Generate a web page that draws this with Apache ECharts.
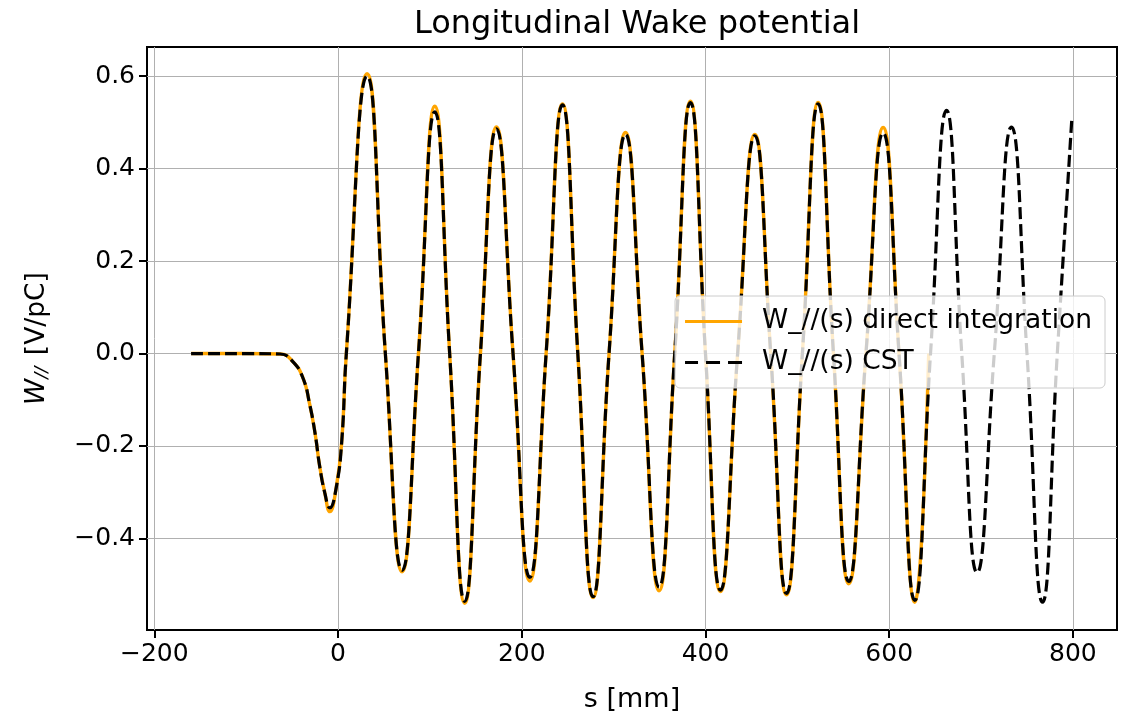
<!DOCTYPE html>
<html>
<head>
<meta charset="utf-8">
<script src="https://cdn.jsdelivr.net/npm/echarts@6/dist/echarts.min.js"></script>
<style>
  html, body { margin: 0; padding: 0; background: #fff; }
  #wake { width: 1127px; height: 718px; }
</style>
</head>
<body>
<div id="wake"></div>
<script>
// s in mm, W in V/pC (zero, extremum, zero, ...)
var sDirect = [-160, -100, -63, -49, -38, -31, -25, -20, -14.5, -9, -2, 4, 9,
  31.6, 51.5, 69.7, 87.5, 105.3, 121.5, 137.9, 155, 172.4, 190.5, 208.7, 226.5,
  244.3, 261, 277.6, 295, 312.9, 331, 349.5, 366.5, 383.6, 400, 416.3, 435,
  453.7, 471, 488.2, 505.5, 522.6, 539.3, 556, 574.7, 593.4, 610.7, 627.9, 643];
var wDirect = [0, 0, -0.001, -0.018, -0.054, -0.109, -0.173, -0.244, -0.301, -0.342, -0.29, -0.19, 0,
  0.605, 0, -0.472, 0, 0.535, 0, -0.54, 0, 0.49, 0, -0.492, 0,
  0.54, 0, -0.528, 0, 0.478, 0, -0.513, 0, 0.546, 0, -0.515, 0,
  0.474, 0, -0.522, 0, 0.543, 0, -0.498, 0, 0.489, 0, -0.538, 0];

var sCst = [-160, -100, -63, -49, -38, -31, -25, -20, -14.5, -9, -2, 4, 9,
  31.6, 51.5, 69.7, 87.5, 105.3, 121.5, 137.9, 155, 172.4, 190.5, 208.7, 226.5,
  244.3, 261, 277.6, 295, 312.9, 331, 349.5, 366.5, 383.6, 400, 416.3, 435,
  453.7, 471, 488.2, 505.5, 522.6, 539.3, 556, 574.7, 593.4, 610.7, 627.9, 645,
  662.4, 679, 695.7, 714.4, 733.1, 750, 766.9, 783, 799];
var wCst = [0, 0, -0.001, -0.018, -0.054, -0.109, -0.173, -0.244, -0.301, -0.334, -0.29, -0.19, 0,
  0.6, 0, -0.469, 0, 0.523, 0, -0.536, 0, 0.486, 0, -0.484, 0,
  0.538, 0, -0.526, 0, 0.474, 0, -0.505, 0, 0.543, 0, -0.512, 0,
  0.471, 0, -0.519, 0, 0.54, 0, -0.493, 0, 0.477, 0, -0.534, 0,
  0.526, 0, -0.474, 0, 0.49, 0, -0.538, 0, 0.513];

var xTicks = [-200, 0, 200, 400, 600, 800];
var yTicks = [-0.4, -0.2, 0, 0.2, 0.4, 0.6];

function pairs(xs, ys) {
  var out = [];
  for (var i = 0; i < xs.length; i++) out.push([xs[i], ys[i]]);
  return out;
}
function minus(str) {
  return String(str).replace('-', '\u2212');
}

var chart = echarts.init(document.getElementById('wake'), null, { renderer: 'canvas' });
var font = 'DejaVu Sans';

chart.setOption({
  animation: false,
  backgroundColor: '#fff',
  title: {
    text: 'Longitudinal Wake potential',
    left: 632,
    top: 4,
    textAlign: 'center',
    textStyle: { fontFamily: font, fontSize: 32, fontWeight: 'normal', color: '#000' }
  },
  grid: {
    left: 147, right: 10, top: 47, bottom: 85,
    show: true, borderColor: '#000', borderWidth: 2, backgroundColor: 'transparent'
  },
  legend: {
    right: 22, top: 296,
    orient: 'vertical',
    padding: [12, 13, 12, 10],
    itemWidth: 57, itemHeight: 3, itemGap: 14,
    backgroundColor: 'rgba(255,255,255,0.8)',
    borderColor: '#cccccc', borderWidth: 1, borderRadius: 5,
    textStyle: { fontFamily: font, fontSize: 26.5, color: '#000', padding: [0, 0, 0, 15] },
    data: [
      { name: 'W_//(s) direct integration', icon: 'path://M0,0h57v3h-57z' },
      { name: 'W_//(s) CST', icon: 'path://M0,0h13v3h-13z M21,0h14v3h-14z M43,0h14v3h-14z' }
    ]
  },
  xAxis: {
    type: 'value',
    min: -208, max: 848,
    name: 's [mm]',
    nameLocation: 'middle',
    nameGap: 56,
    nameTextStyle: { fontFamily: font, fontSize: 27, color: '#000' },
    axisLine: { show: false, onZero: false },
    axisTick: { show: true, customValues: xTicks, length: 8, inside: false, lineStyle: { color: '#000', width: 2 } },
    axisLabel: { customValues: xTicks, fontFamily: font, fontSize: 25, color: '#000', margin: 12, formatter: minus },
    splitLine: { show: true, lineStyle: { color: '#b0b0b0', width: 1 } }
  },
  yAxis: {
    type: 'value',
    min: -0.598, max: 0.663,
    name: '{i|W}{s|//} [V/pC]',
    nameLocation: 'middle',
    nameGap: 96,
    nameRotate: 90,
    nameTextStyle: {
      fontFamily: font, fontSize: 26.5, color: '#000',
      rich: {
        i: { fontFamily: font, fontSize: 26.5, fontStyle: 'italic', color: '#000' },
        s: { fontFamily: font, fontSize: 18, fontStyle: 'italic', color: '#000', verticalAlign: 'bottom', padding: [9, 3, 0, 0] }
      }
    },
    axisLine: { show: false, onZero: false },
    axisTick: { show: true, customValues: yTicks, length: 8, lineStyle: { color: '#000', width: 2 } },
    axisLabel: {
      customValues: yTicks, fontFamily: font, fontSize: 25, color: '#000', margin: 12,
      formatter: function (v) { return minus(Number(v).toFixed(1)); }
    },
    splitLine: { show: true, lineStyle: { color: '#b0b0b0', width: 1 } }
  },
  series: [
    {
      name: 'W_//(s) direct integration',
      type: 'line',
      data: pairs(sDirect, wDirect),
      smooth: 0.5,
      symbol: 'none',
      color: '#FFA500',
      lineStyle: { color: '#FFA500', width: 3.4 },
      z: 2
    },
    {
      name: 'W_//(s) CST',
      type: 'line',
      data: pairs(sCst, wCst),
      smooth: 0.5,
      symbol: 'none',
      color: '#000',
      lineStyle: { color: '#000', width: 3.2, type: [12, 5] },
      z: 3
    }
  ]
});
</script>
</body>
</html>
